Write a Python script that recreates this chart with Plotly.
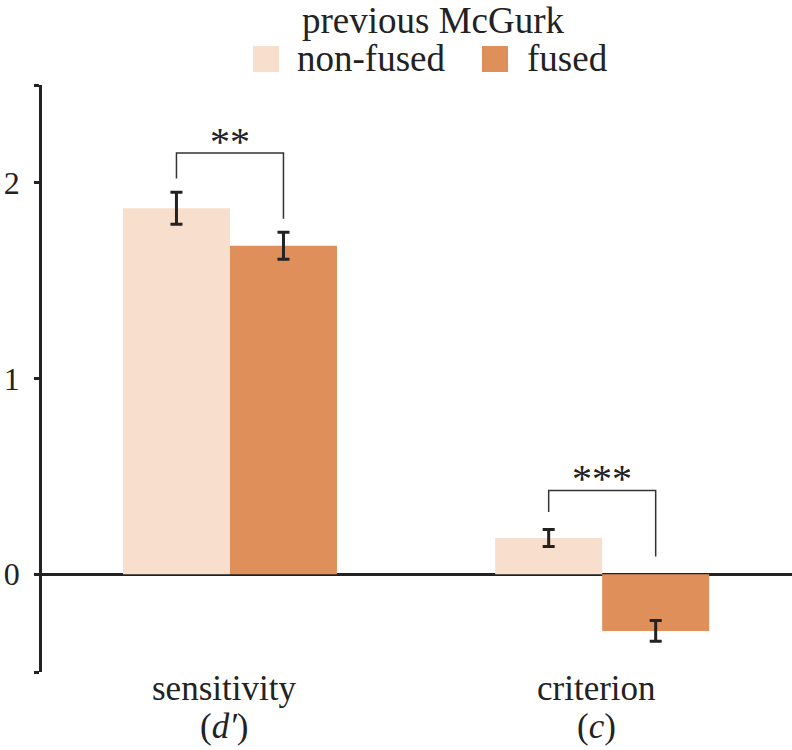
import plotly.graph_objects as go

category_names = ["sensitivity", "criterion"]
category_symbols = ["(<i>d′</i>)", "(<i>c</i>)"]
series_names = ["non-fused", "fused"]
nonfused_vals = [1.87, 0.185]
nonfused_err = [0.082, 0.043]
fused_vals = [1.678, -0.29]
fused_err = [0.069, 0.053]
sig_labels = ["**", "***"]
y_tickvals = [-0.5, 0, 1, 2, 2.5]
y_ticktext = ["", "0", "1", "2", ""]

colors = ["#F8DECD", "#DE8F5A"]
FONT = "Liberation Serif"
W, H = 792, 750
L, R, T, B = 42, 0, 85, 78
BARGAP = 0.425

fig = go.Figure()
xs = list(range(len(category_names)))
for name, vals, errs, col in [(series_names[0], nonfused_vals, nonfused_err, colors[0]),
                              (series_names[1], fused_vals, fused_err, colors[1])]:
    fig.add_trace(go.Bar(
        x=xs, y=vals, name=name, marker_color=col,
        marker_line_width=0,
        error_y=dict(type="data", array=errs, color="#222222", thickness=3, width=6),
        showlegend=False, hoverinfo="skip"))

# significance brackets
half = (1 - BARGAP) / 4
for i, lab in enumerate(sig_labels):
    a_top = nonfused_vals[i] + nonfused_err[i]
    b_top = max(fused_vals[i] + fused_err[i], 0)
    leg_gap = 0.07 if i == 0 else 0.09
    top = max(a_top, b_top) + 0.2
    xa, xb = i - half, i + half
    fig.add_shape(type="path",
                  path=f"M {xa},{a_top + leg_gap} L {xa},{top} L {xb},{top} L {xb},{b_top + leg_gap}",
                  xref="x", yref="y", line=dict(color="#333333", width=1.5))
    fig.add_annotation(x=i, y=top, xref="x", yref="y", text=lab, showarrow=False,
                       yanchor="bottom", yshift=-13,
                       font=dict(family=FONT, size=40, color="#222222"))

# manual legend (pixel layout converted to paper coords)
pw, ph = W - L - R, H - T - B
def px(x):
    return (x - L) / pw
def py(y):
    return (H - B - y) / ph

fig.add_annotation(x=px(434), y=py(21), xref="paper", yref="paper", text="previous McGurk",
                   showarrow=False, xanchor="center", yanchor="middle",
                   font=dict(family=FONT, size=37, color="#222222"))
swatches = [(253, 297), (482, 527)]
for (sx, tx), name, col in zip(swatches, series_names, colors):
    fig.add_shape(type="rect", xref="paper", yref="paper",
                  x0=px(sx), x1=px(sx + 26), y0=py(72), y1=py(46),
                  fillcolor=col, line_width=0)
    fig.add_annotation(x=px(tx - 2), y=py(59), xref="paper", yref="paper", text=name,
                       showarrow=False, xanchor="left", yanchor="middle",
                       font=dict(family=FONT, size=37, color="#222222"))

# category labels below the plot
for i, (nm, sym) in enumerate(zip(category_names, category_symbols)):
    fig.add_annotation(x=i - 0.015, y=py(688), xref="x", yref="paper", text=nm,
                       showarrow=False, xanchor="center", yanchor="middle",
                       font=dict(family=FONT, size=35, color="#222222"))
    fig.add_annotation(x=i - 0.015, y=py(726), xref="x", yref="paper", text=sym,
                       showarrow=False, xanchor="center", yanchor="middle",
                       font=dict(family=FONT, size=35, color="#222222"))

fig.update_layout(
    width=W, height=H, margin=dict(l=L, r=R, t=T, b=B, autoexpand=False),
    plot_bgcolor="white", paper_bgcolor="white",
    barmode="group", bargap=BARGAP, bargroupgap=0,
    font=dict(family=FONT, color="#222222"),
)
fig.update_xaxes(range=[-0.505, 1.51], showticklabels=False, automargin=False,
                 showline=False, showgrid=False, zeroline=False, ticks="")
fig.update_yaxes(range=[-0.5, 2.5], tickvals=y_tickvals, ticktext=y_ticktext, automargin=False,
                 showline=True, linecolor="#222222", linewidth=2.5,
                 ticks="outside", ticklen=5, tickwidth=2.5, tickcolor="#222222",
                 showgrid=False, zeroline=True, zerolinecolor="#222222", zerolinewidth=2.5,
                 ticklabelstandoff=8,
                 tickfont=dict(family=FONT, size=32, color="#222222"))

fig.write_html("out.html", config={"displayModeBar": False},
               post_script="document.body.style.margin='0';")
